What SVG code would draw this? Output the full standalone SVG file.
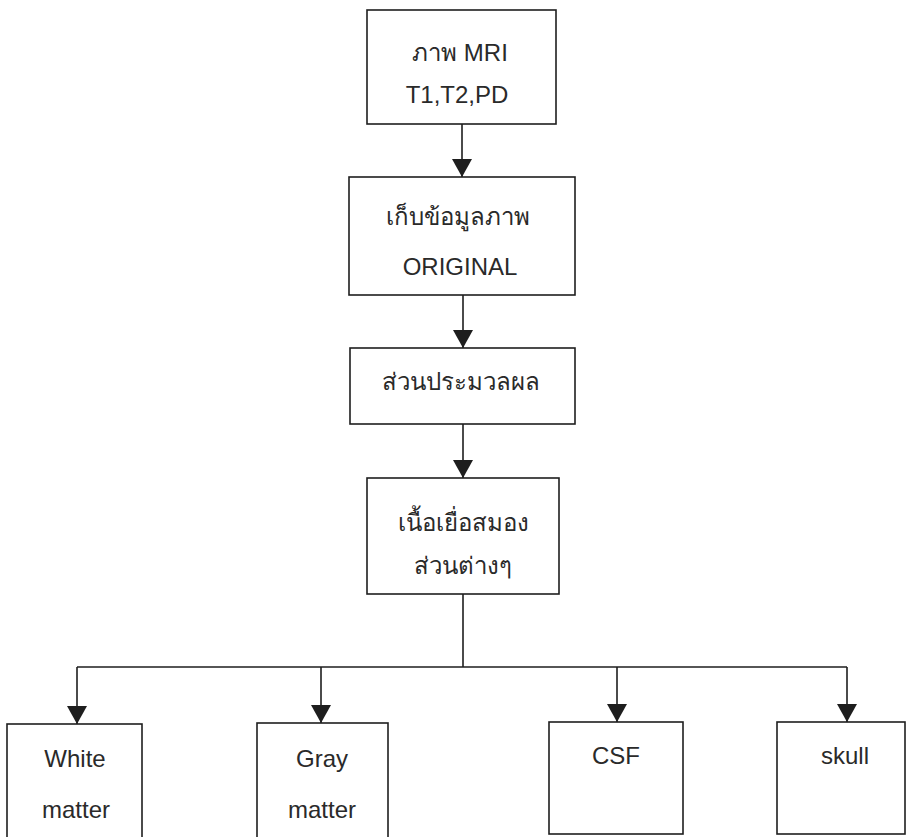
<svg xmlns="http://www.w3.org/2000/svg" width="906" height="837" viewBox="0 0 906 837">
  <style>
    .box { fill: #ffffff; stroke: #1e1e1e; stroke-width: 1.6; }
    .lbl { font-family: "Liberation Sans", "Noto Sans", "DejaVu Sans", sans-serif; font-size: 24px; fill: #2a2a2a; text-anchor: middle; }
    .conn { fill: none; stroke: #1e1e1e; stroke-width: 1.6; }
  </style>
  <defs>
    <marker id="arrow" markerUnits="userSpaceOnUse" markerWidth="18" markerHeight="20" viewBox="0 0 18 20" refX="18" refY="10" orient="auto">
      <path d="M0,0 L18,10 L0,20 Z" fill="#1e1e1e"/>
    </marker>
  </defs>
  <rect width="906" height="837" fill="#ffffff"/>

  <!-- connectors -->
  <g id="connectors">
    <line class="conn" x1="462" y1="124" x2="462" y2="177" marker-end="url(#arrow)"/>
    <line class="conn" x1="463" y1="295" x2="463" y2="348" marker-end="url(#arrow)"/>
    <line class="conn" x1="463" y1="424" x2="463" y2="478" marker-end="url(#arrow)"/>
    <line class="conn" x1="463" y1="594" x2="463" y2="667"/>
    <line class="conn" x1="77" y1="667" x2="847" y2="667"/>
    <line class="conn" x1="77" y1="667" x2="77" y2="724" marker-end="url(#arrow)"/>
    <line class="conn" x1="321" y1="667" x2="321" y2="723" marker-end="url(#arrow)"/>
    <line class="conn" x1="617" y1="667" x2="617" y2="722" marker-end="url(#arrow)"/>
    <line class="conn" x1="847" y1="667" x2="847" y2="722" marker-end="url(#arrow)"/>
  </g>

  <g id="mri">
    <rect class="box" x="367" y="10" width="189" height="114"/>
    <text class="lbl" x="460" y="61">ภาพ MRI</text>
    <text class="lbl" x="457" y="103">T1,T2,PD</text>
  </g>

  <g id="original">
    <rect class="box" x="349" y="177" width="226" height="118"/>
    <text class="lbl" x="458" y="225">เก็บข้อมูลภาพ</text>
    <text class="lbl" x="460" y="275">ORIGINAL</text>
  </g>

  <g id="processing">
    <rect class="box" x="350" y="348" width="225" height="76"/>
    <text class="lbl" x="461" y="390">ส่วนประมวลผล</text>
  </g>

  <g id="tissue">
    <rect class="box" x="367" y="478" width="192" height="116"/>
    <text class="lbl" x="463" y="531">เนื้อเยื่อสมอง</text>
    <text class="lbl" x="463" y="574">ส่วนต่างๆ</text>
  </g>

  <g id="white-matter">
    <rect class="box" x="7" y="724" width="135" height="130"/>
    <text class="lbl" x="75" y="767">White</text>
    <text class="lbl" x="76" y="818">matter</text>
  </g>

  <g id="gray-matter">
    <rect class="box" x="257" y="723" width="131" height="130"/>
    <text class="lbl" x="322" y="767">Gray</text>
    <text class="lbl" x="322" y="818">matter</text>
  </g>

  <g id="csf">
    <rect class="box" x="549" y="722" width="134" height="112"/>
    <text class="lbl" x="616" y="764">CSF</text>
  </g>

  <g id="skull">
    <rect class="box" x="777" y="722" width="128" height="112"/>
    <text class="lbl" x="845" y="764">skull</text>
  </g>
</svg>
